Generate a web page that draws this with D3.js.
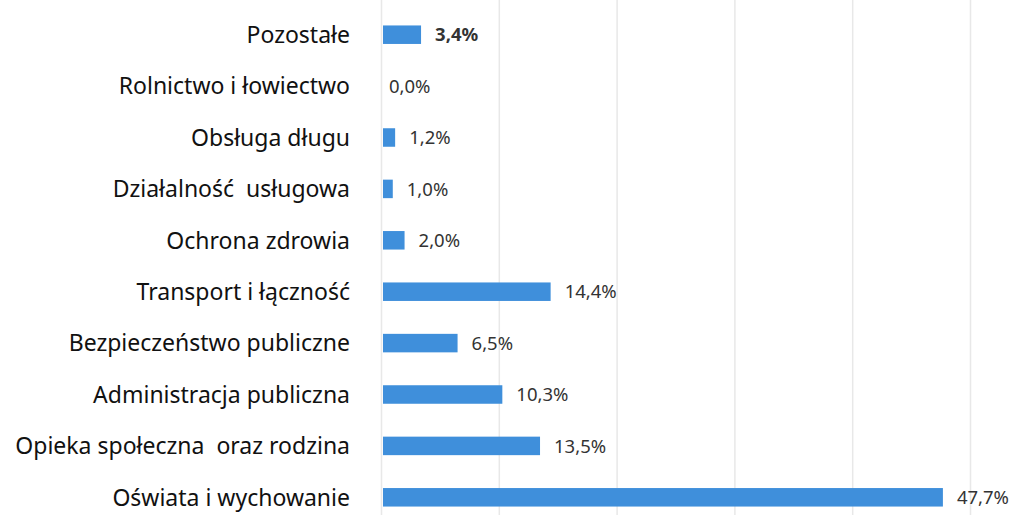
<!DOCTYPE html>
<html>
<head>
<meta charset="utf-8">
<script src="https://cdn.jsdelivr.net/npm/d3@7"></script>
<style>
  body { margin: 0; background: #fff; }
</style>
</head>
<body>
<script>
const categories = [
  'Pozostałe',
  'Rolnictwo i łowiectwo',
  'Obsługa długu',
  'Działalność  usługowa',
  'Ochrona zdrowia',
  'Transport i łączność',
  'Bezpieczeństwo publiczne',
  'Administracja publiczna',
  'Opieka społeczna  oraz rodzina',
  'Oświata i wychowanie'
];
const values = [3.4, 0.0, 1.2, 1.0, 2.0, 14.4, 6.5, 10.3, 13.5, 47.7];
const ticks = [0, 10, 20, 30, 40, 50];

const width = 1019, height = 515;
const svg = d3.select('body').append('svg')
  .attr('width', width)
  .attr('height', height);

const x = d3.scaleLinear().domain([0, 50]).range([381, 970]);
const y = d3.scaleBand().domain(categories).range([9, 523]).paddingInner(0.64).paddingOuter(0.32);

// grid
svg.append('g')
  .selectAll('line')
  .data(ticks)
  .join('line')
    .attr('x1', d => x(d) + 0.5)
    .attr('x2', d => x(d) + 0.5)
    .attr('y1', 0)
    .attr('y2', height)
    .attr('stroke', '#e8e8e8')
    .attr('stroke-width', 1.5);

// bars
svg.append('g')
  .selectAll('rect')
  .data(values)
  .join('rect')
    .attr('x', x(0) + 2)
    .attr('y', (d, i) => y(categories[i]))
    .attr('width', d => Math.max(0, x(d) - x(0) - 2))
    .attr('height', y.bandwidth())
    .attr('fill', '#3f8fdb');

// value labels
svg.append('g')
  .selectAll('text')
  .data(values)
  .join('text')
    .attr('x', d => x(d) + (d > 0 ? 14 : 8))
    .attr('y', (d, i) => y(categories[i]) + y.bandwidth() / 2)
    .attr('dy', '0.36em')
    .attr('font-family', 'Noto Sans, sans-serif')
    .attr('font-size', 18.5)
    .attr('font-weight', (d, i) => i === 0 ? 'bold' : 'normal')
    .attr('fill', '#333')
    .text(d => d3.format('.1f')(d).replace('.', ',') + '%');

// category labels
svg.append('g')
  .selectAll('text')
  .data(categories)
  .join('text')
    .attr('x', 350)
    .attr('y', d => y(d) + y.bandwidth() / 2)
    .attr('dy', '0.36em')
    .attr('text-anchor', 'end')
    .attr('font-family', 'Noto Sans, sans-serif')
    .attr('font-size', 23)
    .attr('fill', '#111')
    .style('white-space', 'pre')
    .text(d => d);
</script>
</body>
</html>
